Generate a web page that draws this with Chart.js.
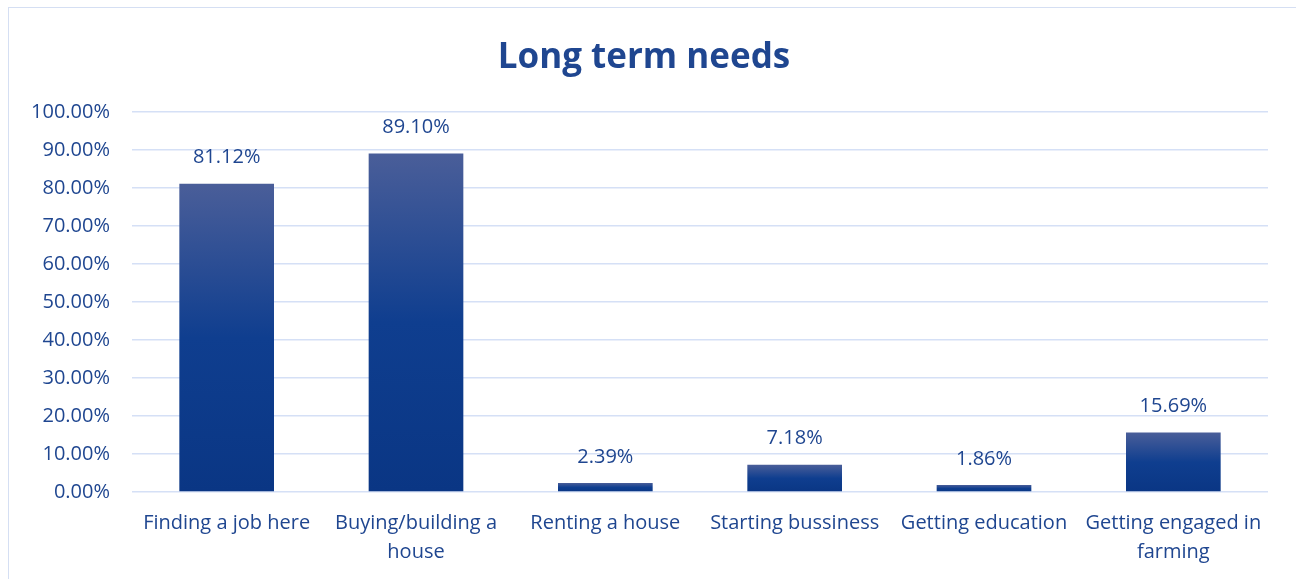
<!DOCTYPE html>
<html>
<head>
<meta charset="utf-8">
<script src="https://cdn.jsdelivr.net/npm/chart.js@4"></script>
<style>
  body { margin: 0; background: #fff; }
  #wrap { position: relative; width: 1296px; height: 579px; }
  #frame { position: absolute; left: 8px; top: 7px; width: 1300px; height: 600px;
           border-left: 1.5px solid #d5dff3; border-top: 1.5px solid #d5dff3; }
  canvas { position: absolute; left: 0; top: 0; }
</style>
</head>
<body>
<div id="wrap">
  <div id="frame"></div>
  <canvas id="grafico" width="1296" height="579"></canvas>
</div>
<script>
// categorias e valores (%)
let categorias = [
  'Finding a job here',
  ['Buying/building a', 'house'],
  'Renting a house',
  'Starting bussiness',
  'Getting education',
  ['Getting engaged in', 'farming']
]
let valores = [81.12, 89.10, 2.39, 7.18, 1.86, 15.69]
let ticksY = [0, 10, 20, 30, 40, 50, 60, 70, 80, 90, 100]

const corTexto = '#1f4690'
const fonte = '"Open Sans", Lato, sans-serif'

// gradiente de cada barra: claro no topo, escuro na base
function corBarra(context) {
  let chart = context.chart
  if (!chart.chartArea || context.parsed === undefined) return '#0d3a8a'
  let y = chart.scales.y
  let topo = y.getPixelForValue(context.parsed.y)
  let base = y.getPixelForValue(0)
  let g = chart.ctx.createLinearGradient(0, topo, 0, base)
  g.addColorStop(0, '#4a5e99')
  g.addColorStop(0.5, '#0f3e8f')
  g.addColorStop(1, '#0a3684')
  return g
}

// escreve o valor em cima de cada barra
const rotulos = {
  id: 'rotulos',
  afterDatasetsDraw(chart) {
    let ctx = chart.ctx
    let meta = chart.getDatasetMeta(0)
    ctx.save()
    ctx.font = '20px ' + fonte
    ctx.fillStyle = corTexto
    ctx.textAlign = 'center'
    ctx.textBaseline = 'middle'
    meta.data.forEach((barra, i) => {
      ctx.fillText(valores[i].toFixed(2) + '%', barra.x, barra.y - 26)
    })
    ctx.restore()
  }
}

var ctx = document.getElementById('grafico').getContext('2d')
var myChart = new Chart(ctx, {
  type: 'bar',
  data: {
    labels: categorias,
    datasets: [{
      data: valores,
      backgroundColor: corBarra,
      categoryPercentage: 1,
      barPercentage: 0.5
    }]
  },
  options: {
    responsive: false,
    animation: false,
    layout: { padding: { left: 20, right: 28, top: 0, bottom: 0 } },
    plugins: {
      legend: { display: false },
      tooltip: { enabled: false },
      title: {
        display: true,
        text: 'Long term needs',
        color: corTexto,
        font: { family: fonte, size: 35, weight: 'bold', lineHeight: 1.2 },
        padding: { top: 37, bottom: 33 }
      }
    },
    scales: {
      x: {
        afterFit(scale) { scale.height = 87 },
        grid: { display: false },
        border: { display: false },
        ticks: {
          color: corTexto,
          font: { family: fonte, size: 20, lineHeight: 1.45 },
          padding: 9,
          maxRotation: 0,
          autoSkip: false
        }
      },
      y: {
        min: 0,
        max: 100,
        afterFit(scale) { scale.width = 112 },
        afterBuildTicks(scale) { scale.ticks = ticksY.map(v => ({ value: v })) },
        grid: { color: '#d5e0f6', lineWidth: 1.5, drawTicks: false },
        border: { display: false },
        ticks: {
          color: corTexto,
          font: { family: fonte, size: 20 },
          padding: 22,
          callback: v => v.toFixed(2) + '%'
        }
      }
    }
  },
  plugins: [rotulos]
})
</script>
</body>
</html>
